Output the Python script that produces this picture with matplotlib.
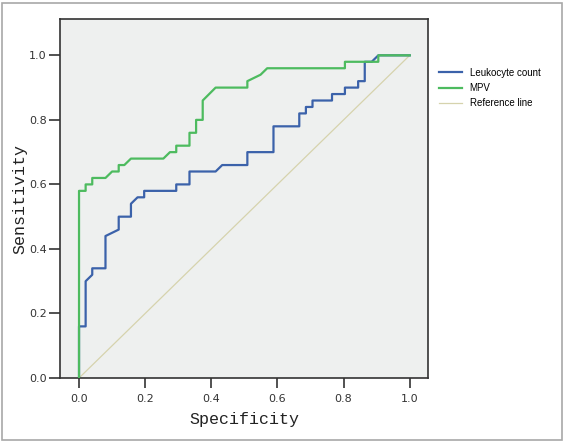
import numpy as np
import matplotlib
matplotlib.use("Agg")
from matplotlib import pyplot as plt
from matplotlib.patches import Rectangle

# ROC points (x = 1 - specificity axis as labelled "Specificity")
leuko_x = [0.0, 0.0, 0.02, 0.02, 0.04, 0.04, 0.08, 0.08, 0.12, 0.12, 0.157, 0.157, 0.177, 0.197, 0.197,
           0.294, 0.294, 0.334, 0.334, 0.413, 0.433, 0.509, 0.509, 0.588, 0.588, 0.666, 0.666,
           0.686, 0.686, 0.706, 0.706, 0.765, 0.765, 0.804, 0.804, 0.844, 0.844, 0.864, 0.864,
           0.885, 0.905, 1.0]
leuko_y = [0.0, 0.16, 0.16, 0.30, 0.32, 0.34, 0.34, 0.44, 0.46, 0.50, 0.50, 0.54, 0.56, 0.56, 0.58,
           0.58, 0.60, 0.60, 0.64, 0.64, 0.66, 0.66, 0.70, 0.70, 0.78, 0.78, 0.82,
           0.82, 0.84, 0.84, 0.86, 0.86, 0.88, 0.88, 0.90, 0.90, 0.92, 0.92, 0.98,
           0.98, 1.0, 1.0]

mpv_x = [0.0, 0.0, 0.02, 0.02, 0.04, 0.04, 0.08, 0.10, 0.12, 0.12, 0.137, 0.157, 0.255, 0.275,
         0.294, 0.294, 0.334, 0.334, 0.354, 0.354, 0.374, 0.374, 0.413, 0.509, 0.509, 0.549,
         0.569, 0.804, 0.804, 0.905, 0.905, 1.0]
mpv_y = [0.0, 0.58, 0.58, 0.60, 0.60, 0.62, 0.62, 0.64, 0.64, 0.66, 0.66, 0.68, 0.68, 0.70,
         0.70, 0.72, 0.72, 0.76, 0.76, 0.80, 0.80, 0.86, 0.90, 0.90, 0.92, 0.94,
         0.96, 0.96, 0.98, 0.98, 1.0, 1.0]

ref_x = [0.0, 1.0]
ref_y = [0.0, 1.0]

ticks = [0.0, 0.2, 0.4, 0.6, 0.8, 1.0]
tick_labels = ["0.0", "0.2", "0.4", "0.6", "0.8", "1.0"]

fig = plt.figure(figsize=(5.64, 4.43), dpi=100)
fig.patch.set_facecolor("white")
# outer frame
fig.add_artist(Rectangle((0.003, 0.006), 0.994, 0.988, transform=fig.transFigure,
                         fill=False, edgecolor="#a8a8a8", linewidth=1.2))

ax = fig.add_axes([0.1064, 0.1467, 0.6525, 0.8104])
ax.set_facecolor("#eef0ef")

ax.plot(ref_x, ref_y, color="#d6d3ad", linewidth=0.9, label="Reference line", zorder=1)
ax.plot(leuko_x, leuko_y, color="#3b62aa", linewidth=1.6, label="Leukocyte count", zorder=2)
ax.plot(mpv_x, mpv_y, color="#4dbb5f", linewidth=1.6, label="MPV", zorder=3)

ax.set_xlim(-0.0575, 1.0553)
ax.set_ylim(0.0, 1.1126)
ax.set_xticks(ticks)
ax.set_xticklabels(tick_labels)
ax.set_yticks(ticks)
ax.set_yticklabels(tick_labels)
ax.tick_params(axis="both", direction="out", width=1.2, color="#333333",
               labelsize=8, labelcolor="#333333")
ax.tick_params(axis="x", length=7, pad=4.5)
ax.tick_params(axis="y", length=8, pad=1.5)
for s in ax.spines.values():
    s.set_color("#333333")
    s.set_linewidth(1.2)

ax.set_xlabel("Specificity", family="Liberation Mono", fontsize=12, color="#222222", labelpad=6)
ax.set_ylabel("Sensitivity", family="Liberation Mono", fontsize=12, color="#222222", labelpad=1)

handles, labels = ax.get_legend_handles_labels()
order = [1, 2, 0]
fig.legend([handles[i] for i in order], [labels[i] for i in order],
           loc="upper left", bbox_to_anchor=(0.762, 0.867), frameon=False,
           handlelength=2.4, labelspacing=0.55, handletextpad=0.8,
           prop={"family": "Liberation Sans", "size": 7})

fig.savefig("out.png", dpi=100)
